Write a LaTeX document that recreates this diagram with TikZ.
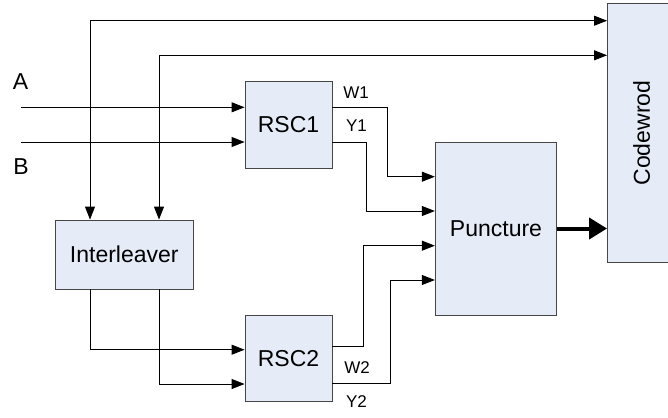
\documentclass[tikz,border=0pt]{standalone}
\usepackage{fontspec}
\setmainfont{Liberation Sans}
\usetikzlibrary{arrows.meta,calc}
\definecolor{boxfill}{RGB}{230,236,247}
\definecolor{boxline}{RGB}{70,70,70}
\begin{document}
\begin{tikzpicture}[x=1pt,y=-1pt,
  blk/.style={draw=boxline,fill=boxfill,line width=0.9pt,inner sep=0pt,font=\fontsize{23}{27}\selectfont},
  tip/.tip={Triangle[length=13pt,width=10pt]},
  lnk/.style={line width=0.9pt,-tip},
  dlnk/.style={line width=0.9pt,tip-tip},
  fat/.style={line width=4pt,-{Triangle[length=18pt,width=21pt]}},
  big/.style={font=\fontsize{23}{27}\selectfont,inner sep=0pt},
  lbl/.style={font=\fontsize{17}{20}\selectfont,inner sep=0pt}]
\useasboundingbox (0,0) rectangle (668,417);
% blocks
\node[blk,minimum width=87pt,minimum height=87pt] (rsc1) at (288.5,124.5) {RSC1};
\node[blk,minimum width=87pt,minimum height=86.4pt] (rsc2) at (288.5,358.5) {RSC2};
\node[blk,minimum width=138pt,minimum height=69pt] (inter) at (124.3,254.5) {Interleaver};
\node[blk,minimum width=121.4pt,minimum height=173pt] (punc) at (496,228.5) {Puncture};
\node[blk,minimum width=68.4pt,minimum height=259.4pt] (code) at (641.7,133) {\rotatebox{90}{Codewrod}};
% helper coordinates
\coordinate (xa) at (90,0);
\coordinate (xb) at (159,0);
\coordinate (ya) at (0,20.7);
\coordinate (yb) at (0,55.3);
\coordinate (ain) at (21,107.3);
\coordinate (bin) at (21,142);
\coordinate (p1) at (0,176.7);
\coordinate (p2) at (0,211);
\coordinate (p3) at (0,245.7);
\coordinate (p4) at (0,280);
\coordinate (w2) at (0,346.7);
\coordinate (y2) at (0,383.7);
\coordinate (i1) at (0,349.7);
\coordinate (i2) at (0,384);
% connectors
\draw[dlnk] (inter.north -| xa) |- (code.west |- ya);
\draw[dlnk] (inter.north -| xb) |- (code.west |- yb);
\draw[lnk] (ain) -- (rsc1.west |- ain);
\draw[lnk] (bin) -- (rsc1.west |- bin);
\draw[lnk] (rsc1.east |- ain) -- ++(55.3,0) |- (punc.west |- p1);
\draw[lnk] (rsc1.east |- bin) -- ++(33.7,0) |- (punc.west |- p2);
\draw[lnk] (rsc2.east |- w2) -- ++(31.3,0) |- (punc.west |- p3);
\draw[lnk] (rsc2.east |- y2) -- ++(58,0) |- (punc.west |- p4);
\draw[lnk] (inter.south -| xa) |- (rsc2.west |- i1);
\draw[lnk] (inter.south -| xb) |- (rsc2.west |- i2);
\draw[fat] (punc.east) -- (code.west |- punc.east);
% labels
\node[big] (la) at (20.5,82) {A};
\node[big] (lb) at (21,167) {B};
\node[lbl] (lw1) at (356,92.5) {W1};
\node[lbl] (ly1) at (356.5,126) {Y1};
\node[lbl] (lw2) at (357,368) {W2};
\node[lbl] (ly2) at (356.5,401.5) {Y2};
\end{tikzpicture}
\end{document}
